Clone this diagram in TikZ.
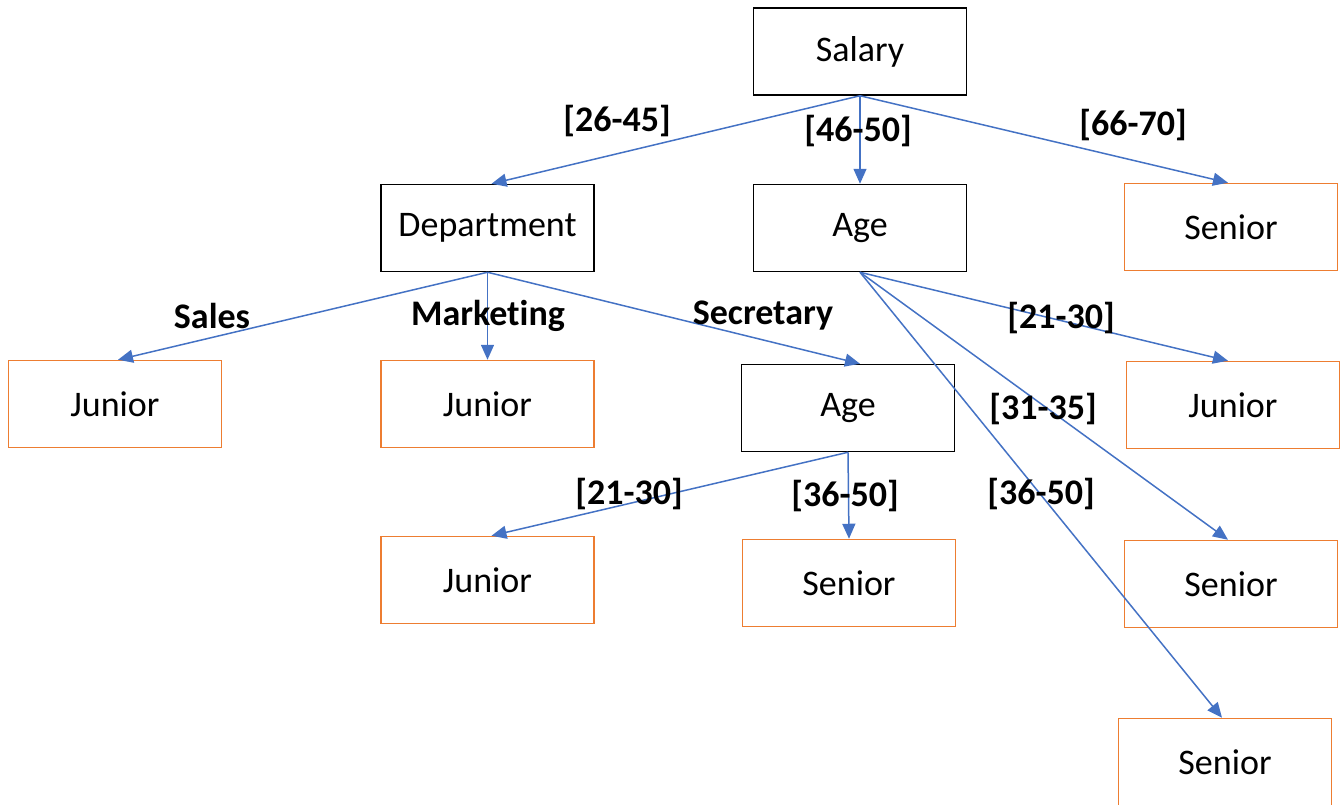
\documentclass[tikz,border=0pt]{standalone}
\usepackage{fontspec}
\setmainfont{Carlito}[Ligatures={NoCommon}]
\usepackage{tikz}
\usetikzlibrary{arrows.meta, positioning}
\definecolor{linkblue}{HTML}{4472C4}
\definecolor{leaforange}{HTML}{ED7D31}
\tikzstyle{attr} = [rectangle, minimum width=106.5pt, minimum height=43.5pt, text centered, draw=black, line width=0.75pt, font=\fontsize{18}{21.6}\selectfont]
\tikzstyle{leaf} = [rectangle, minimum width=106.5pt, minimum height=43.5pt, text centered, draw=leaforange, line width=0.75pt, font=\fontsize{18}{21.6}\selectfont]
\tikzstyle{cond} = [font=\fontsize{18}{21.6}\selectfont\bfseries, inner sep=0pt]
\tikzstyle{arrow} = [draw=linkblue, line width=0.75pt, -{Triangle[length=7.5pt, width=6.5pt]}]

\begin{document}
\begin{tikzpicture}[x=0.5pt, y=-0.5pt]
				\useasboundingbox (0,0) rectangle (1343,804);
				% inner nodes
				\node (salary) [attr] at (860,51.5) {Salary};
				\node (dept) [attr] at (487.5,228) {Department};
				\node (age) [attr] at (860,228) {Age};
				\node (agesec) [attr] at (848,408) {Age};
				% leaves
				\node (senA) [leaf] at (1231,227) {Senior};
				\node (junA) [leaf] at (115,404) {Junior};
				\node (junB) [leaf] at (487.5,404) {Junior};
				\node (junC) [leaf] at (1233,405) {Junior};
				\node (junD) [leaf] at (487.5,580) {Junior};
				\node (senB) [leaf] at (849,583) {Senior};
				\node (senC) [leaf] at (1231,584) {Senior};
				\node (senD) [leaf] at (1225,762) {Senior};

				\draw [arrow] (salary.south) -- ([xshift=2pt]dept.north);
				\draw [arrow] (salary.south) -- (age.north);
				\draw [arrow] (salary.south) -- ([xshift=-1.5pt]senA.north);
				\draw [arrow] (dept.south) -- ([xshift=1.5pt]junA.north);
				\draw [arrow] (dept.south) -- (junB.north);
				\draw [arrow] (dept.south) -- ([xshift=6pt]agesec.north);
				\draw [arrow] (age.south) -- ([xshift=-2.5pt]junC.north);
				\draw [arrow] (age.south) -- ([xshift=-1.5pt]senC.north);
				\draw [arrow] (age.south) -- ([xshift=-1.5pt]senD.north);
				\draw [arrow] (agesec.south) -- ([xshift=2pt]junD.north);
				\draw [arrow] (agesec.south) -- (senB.north);

				% branch values
				\node (c1) [cond] at (617,121) {[26-45]};
				\node (c2) [cond] at (858,131) {[46-50]};
				\node (c3) [cond] at (1133,125) {[66-70]};
				\node (c4) [cond] at (212,316) {Sales};
				\node (c5) [cond] at (488,316) {Marketing};
				\node (c6) [cond] at (763,316) {Secretary};
				\node (c7) [cond] at (1061,318) {[21-30]};
				\node (c8) [cond] at (1043,409) {[31-35]};
				\node (c9) [cond] at (1041,494) {[36-50]};
				\node (c10) [cond] at (629,494) {[21-30]};
				\node (c11) [cond] at (845,496) {[36-50]};
\end{tikzpicture}
\end{document}
